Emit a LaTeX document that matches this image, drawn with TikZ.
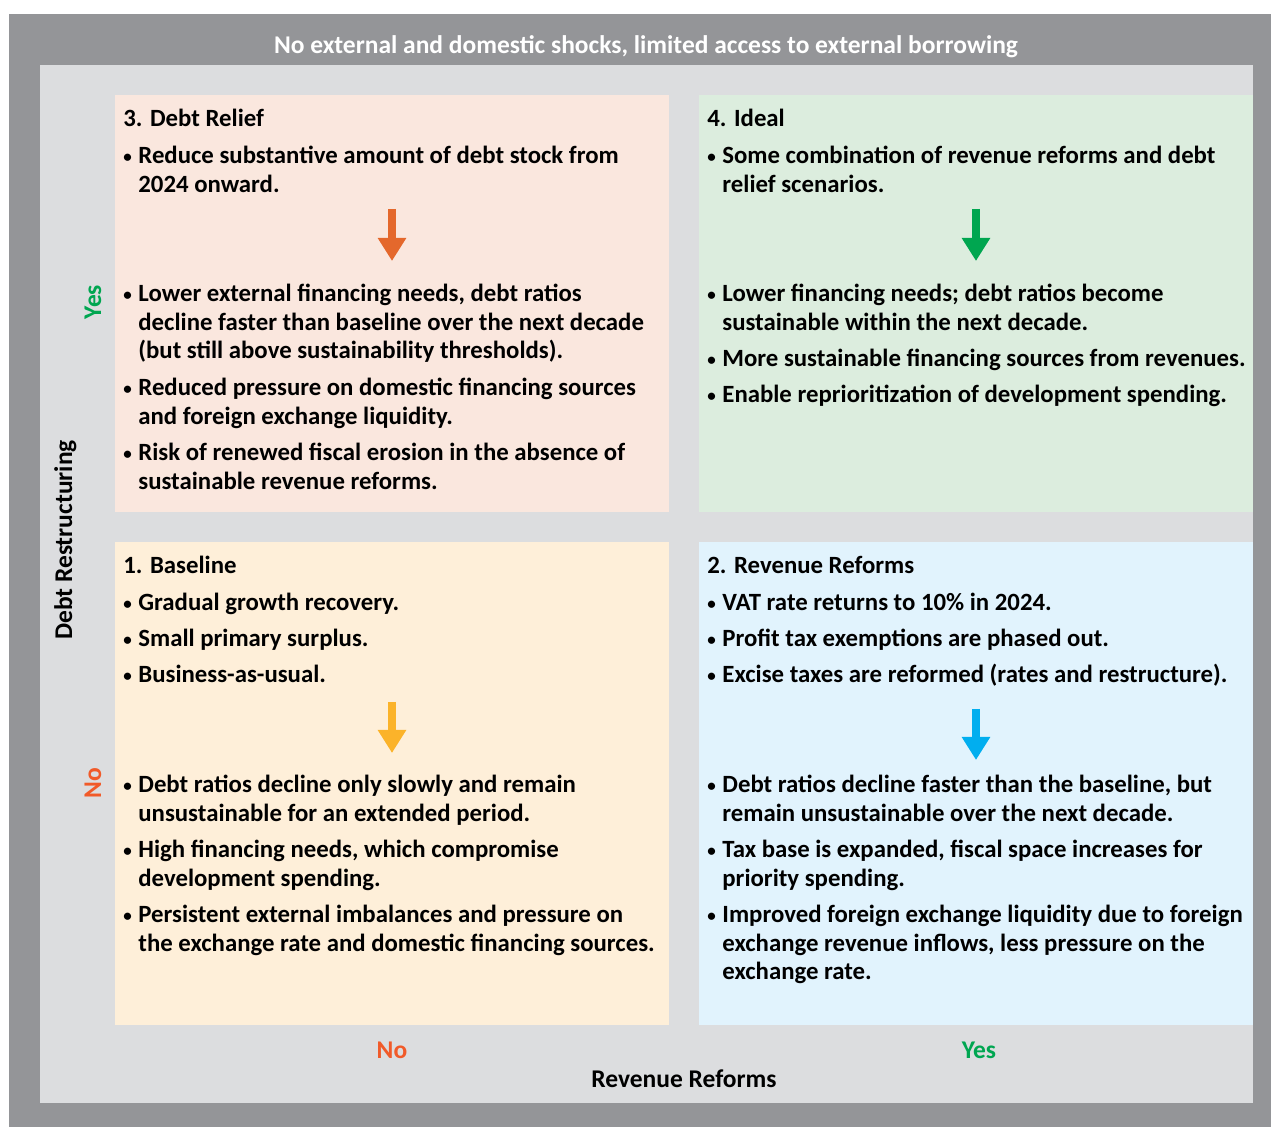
\documentclass[tikz,border=0pt]{standalone}
\usepackage{fontspec}
\setmainfont{Carlito}
\usepackage{tikz}
\usetikzlibrary{arrows.meta, positioning, calc}
\definecolor{framegray}{RGB}{148,149,152}
\definecolor{panelgray}{RGB}{220,221,223}
\definecolor{reliefbg}{RGB}{250,231,222}
\definecolor{idealbg}{RGB}{220,237,222}
\definecolor{basebg}{RGB}{254,239,217}
\definecolor{reformbg}{RGB}{225,243,253}
\definecolor{reliefarrow}{RGB}{228,104,44}
\definecolor{idealarrow}{RGB}{0,166,80}
\definecolor{basearrow}{RGB}{251,179,42}
\definecolor{reformarrow}{RGB}{1,174,239}
\definecolor{nored}{RGB}{241,90,41}
\definecolor{yesgreen}{RGB}{0,166,81}
\newcommand{\bul}[1]{\makebox[7.5pt][l]{\raisebox{0.9pt}{\fontsize{8.5pt}{8.5pt}\selectfont\textbullet}}\parbox[t]{272pt}{\raggedright #1}}

\begin{document}
\begin{tikzpicture}[
		x=0.5pt, y=-0.5pt,
		quad/.style={rectangle, inner sep=0pt, outer sep=0pt, minimum width=277pt, anchor=north west},
		txt/.style={anchor=base west, inner sep=0pt, font=\bfseries\fontsize{12.4pt}{14.25pt}\selectfont},
		title/.style={txt},
		axis/.style={anchor=base, inner sep=0pt, font=\bfseries\fontsize{12.75pt}{14.25pt}\selectfont},
		arr/.style={-{Triangle[width=13.5pt, length=11.5pt]}, line width=4pt}
	]
	\useasboundingbox (0,0) rectangle (1271,1127);
	\fill[framegray] (9,14) rectangle (1271,1127);
	\fill[panelgray] (40,65) rectangle (1253,1103);
	
	% quadrants
	\node[quad, fill=reliefbg, minimum height=208.5pt] (q3) at (115,95) {};
	\node[quad, fill=idealbg, minimum height=208.5pt, right=15pt of q3] (q4) {};
	\node[quad, fill=basebg, minimum height=241.5pt, below=15pt of q3] (q1) {};
	\node[quad, fill=reformbg, minimum height=241.5pt, right=15pt of q1] (q2) {};
	
	% 3. Debt Relief
	\node[title] (t3) at (123,127) {3. Debt Relief};
	\node[txt] (r1) at (123,164) {\bul{Reduce substantive amount of debt stock from\\2024 onward.}};
	\node[txt] (r2) at (123,302) {\bul{Lower external financing needs, debt ratios\\decline faster than baseline over the next decade\\(but still above sustainability thresholds).}};
	\node[txt] (r3) at (123,396) {\bul{Reduced pressure on domestic financing sources\\and foreign exchange liquidity.}};
	\node[txt] (r4) at (123,461) {\bul{Risk of renewed fiscal erosion in the absence of\\sustainable revenue reforms.}};
	
	% 4. Ideal
	\node[title] (t4) at (707,127) {4. Ideal};
	\node[txt] (i1) at (707,164) {\bul{Some combination of revenue reforms and debt\\relief scenarios.}};
	\node[txt] (i2) at (707,302) {\bul{Lower financing needs; debt ratios become\\sustainable within the next decade.}};
	\node[txt] (i3) at (707,367) {\bul{More sustainable financing sources from revenues.}};
	\node[txt] (i4) at (707,403) {\bul{Enable reprioritization of development spending.}};
	
	% 1. Baseline
	\node[title] (t1) at (123,574) {1. Baseline};
	\node[txt] (b1) at (123,611) {\bul{Gradual growth recovery.}};
	\node[txt] (b2) at (123,647) {\bul{Small primary surplus.}};
	\node[txt] (b3) at (123,683) {\bul{Business-as-usual.}};
	\node[txt] (b4) at (123,793) {\bul{Debt ratios decline only slowly and remain\\unsustainable for an extended period.}};
	\node[txt] (b5) at (123,858) {\bul{High financing needs, which compromise\\development spending.}};
	\node[txt] (b6) at (123,923) {\bul{Persistent external imbalances and pressure on\\the exchange rate and domestic financing sources.}};
	
	% 2. Revenue Reforms
	\node[title] (t2) at (707,574) {2. Revenue Reforms};
	\node[txt] (v1) at (707,611) {\bul{VAT rate returns to 10\% in 2024.}};
	\node[txt] (v2) at (707,647) {\bul{Profit tax exemptions are phased out.}};
	\node[txt] (v3) at (707,683) {\bul{Excise taxes are reformed (rates and restructure).}};
	\node[txt] (v4) at (707,793) {\bul{Debt ratios decline faster than the baseline, but\\remain unsustainable over the next decade.}};
	\node[txt] (v5) at (707,858) {\bul{Tax base is expanded, fiscal space increases for\\priority spending.}};
	\node[txt] (v6) at (707,923) {\bul{Improved foreign exchange liquidity due to foreign\\exchange revenue inflows, less pressure on the\\exchange rate.}};
	
	% arrows
	\coordinate (a3s) at ($(q3.north)+(0,114)$);
	\coordinate (a3e) at ($(q3.north)+(0,166)$);
	\coordinate (a4s) at ($(q4.north)+(0,114)$);
	\coordinate (a4e) at ($(q4.north)+(0,166)$);
	\coordinate (a1s) at ($(q1.north)+(0,160)$);
	\coordinate (a1e) at ($(q1.north)+(0,211)$);
	\coordinate (a2s) at ($(q2.north)+(0,167)$);
	\coordinate (a2e) at ($(q2.north)+(0,218)$);
	\draw[arr, reliefarrow] (a3s) -- (a3e);
	\draw[arr, idealarrow] (a4s) -- (a4e);
	\draw[arr, basearrow] (a1s) -- (a1e);
	\draw[arr, reformarrow] (a2s) -- (a2e);
	
	% labels
	\node[axis, text=white] (head) at (646,54) {No external and domestic shocks, limited access to external borrowing};
	\node[axis, rotate=90] (ylab) at (72,540) {Debt Restructuring};
	\node[axis, rotate=90, text=yesgreen] (yyes) at (101,302) {Yes};
	\node[axis, rotate=90, text=nored] (yno) at (101,783) {No};
	\node[axis, text=nored] (xno) at (392,1059) {No};
	\node[axis, text=yesgreen] (xyes) at (979,1059) {Yes};
	\node[axis] (xlab) at (684,1088) {Revenue Reforms};
\end{tikzpicture}
\end{document}
